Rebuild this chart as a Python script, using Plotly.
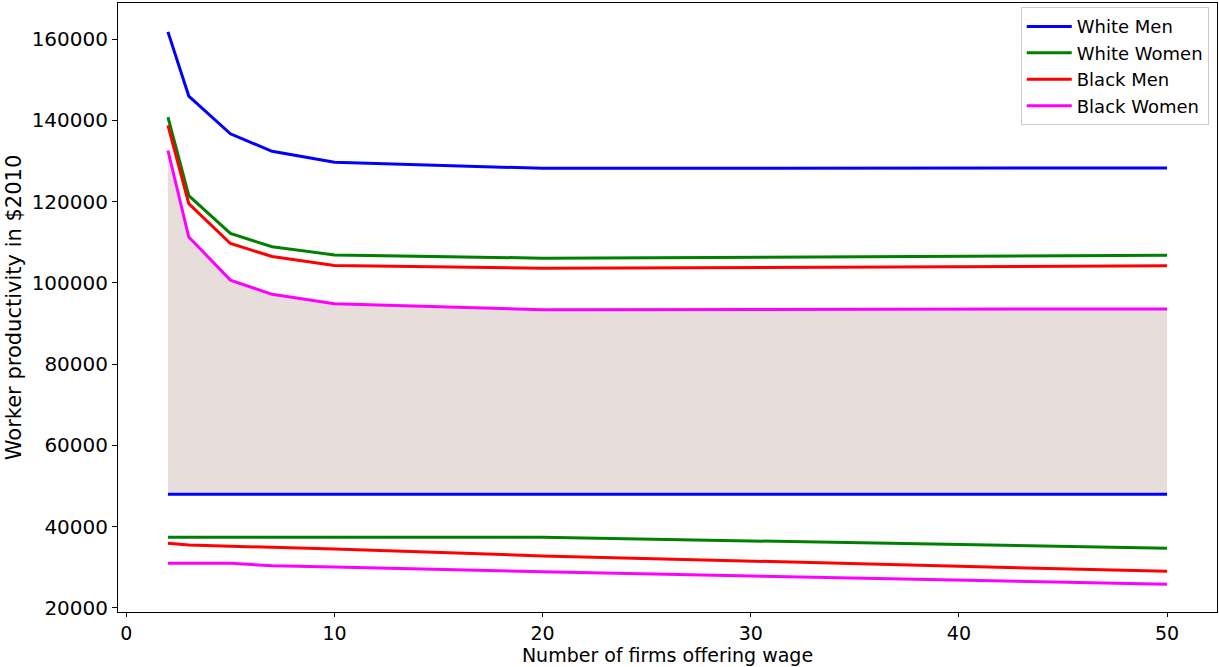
import plotly.graph_objects as go

firms = [2, 3, 5, 7, 10, 20, 50]

# Upper curves (productivity)
wm_hi = [161800, 146000, 136700, 132400, 129700, 128200, 128300]
ww_hi = [140800, 121500, 112200, 108900, 106900, 106100, 106800]
bm_hi = [138800, 119500, 109700, 106500, 104300, 103600, 104200]
bw_hi = [132600, 111300, 100700, 97200, 94900, 93400, 93600]

# Lower curves (wages)
wm_lo = [48000, 48000, 48000, 48000, 48000, 48000, 48000]
ww_lo = [37400, 37400, 37400, 37400, 37400, 37400, 34700]
bm_lo = [35900, 35500, 35200, 34900, 34500, 32800, 29000]
bw_lo = [31000, 31000, 31000, 30400, 30100, 28900, 25800]

names = ["White Men", "White Women", "Black Men", "Black Women"]
colors = ["#0000ff", "#008000", "#ff0000", "#ff00ff"]

fig = go.Figure()

# Shaded region between White Men lower and Black Women upper
fig.add_trace(go.Scatter(x=firms, y=wm_lo, mode="lines", line=dict(width=0),
                         showlegend=False, hoverinfo="skip"))
fig.add_trace(go.Scatter(x=firms, y=bw_hi, mode="lines", line=dict(width=0),
                         fill="tonexty", fillcolor="rgb(231,221,219)",
                         showlegend=False, hoverinfo="skip"))

his = [wm_hi, ww_hi, bm_hi, bw_hi]
los = [wm_lo, ww_lo, bm_lo, bw_lo]
for n, c, h, l in zip(names, colors, his, los):
    fig.add_trace(go.Scatter(x=firms, y=h, mode="lines", name=n,
                             line=dict(color=c, width=3), legendgroup=n))
    fig.add_trace(go.Scatter(x=firms, y=l, mode="lines", name=n,
                             line=dict(color=c, width=3), legendgroup=n,
                             showlegend=False))

axis_common = dict(showgrid=False, zeroline=False, showline=True, linecolor="black",
                   linewidth=1, mirror=True, ticks="outside",
                   tickcolor="black", automargin=False)

fig.update_layout(
    width=1219, height=667,
    margin=dict(l=118, r=2, t=3, b=55),
    plot_bgcolor="white", paper_bgcolor="white",
    font=dict(family="DejaVu Sans", color="black"),
    legend=dict(x=0.9925, y=0.993, xanchor="right", yanchor="top",
                bordercolor="#cccccc", borderwidth=1, bgcolor="rgba(255,255,255,0.8)",
                font=dict(size=18), tracegroupgap=0, itemwidth=45),
    xaxis=dict(range=[-0.4, 52.4], tickvals=[0, 10, 20, 30, 40, 50],
               ticklen=4, tickfont=dict(size=19, color="black"),
               title=dict(text="Number of firms offering wage", font=dict(size=19), standoff=0),
               **axis_common),
    yaxis=dict(range=[19000, 168900], tickvals=[20000, 40000, 60000, 80000, 100000, 120000, 140000, 160000],
               tickformat="d", ticklen=5, tickfont=dict(size=20, color="black"),
               title=dict(text="Worker productivity in $2010", font=dict(size=21), standoff=4),
               **axis_common),
)

fig.write_html("out.html", config={"displayModeBar": False},
               post_script="document.body.style.margin='0';")
